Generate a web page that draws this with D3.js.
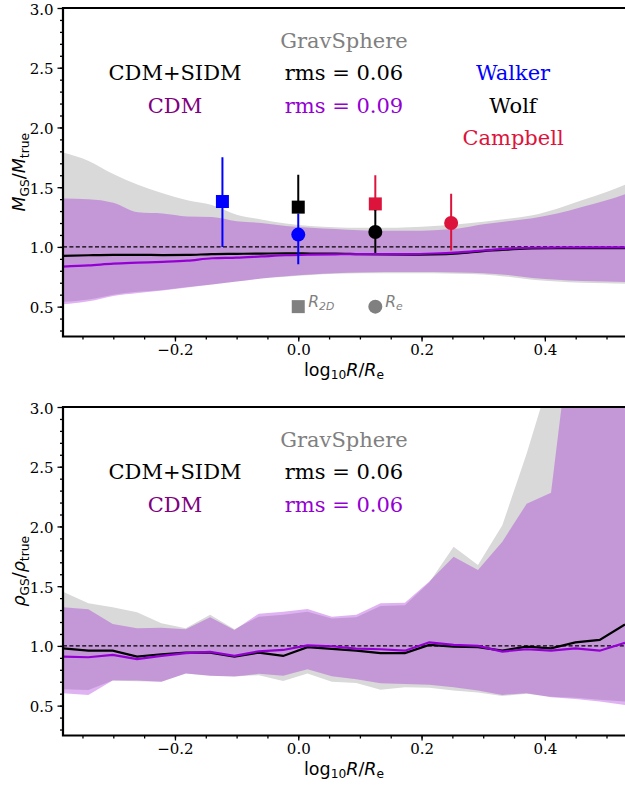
<!DOCTYPE html>
<html>
<head>
<meta charset="utf-8">
<script src="https://cdn.jsdelivr.net/npm/d3@7"></script>
<style>
body { margin: 0; background: #fff; }
svg text { font-family: "DejaVu Serif", serif; }
svg text.sans { font-family: "DejaVu Sans", sans-serif; }
</style>
</head>
<body>
<div id="chart"></div>
<script>
// ---- top panel: enclosed mass ratio ----
var xTop = [-0.382, -0.34, -0.30, -0.26, -0.22, -0.18, -0.14, -0.10, -0.06, -0.02, 0.02, 0.06,
            0.10, 0.14, 0.18, 0.22, 0.26, 0.30, 0.34, 0.38, 0.42, 0.46, 0.50, 0.54];
var mSidmHi = [1.79, 1.72, 1.61, 1.52, 1.45, 1.39, 1.35, 1.27, 1.23, 1.195, 1.175, 1.165,
               1.16, 1.16, 1.165, 1.175, 1.19, 1.21, 1.235, 1.265, 1.32, 1.39, 1.46, 1.54];
var mSidmLo = [0.54, 0.56, 0.60, 0.625, 0.64, 0.665, 0.685, 0.71, 0.735, 0.75, 0.765, 0.775,
               0.78, 0.78, 0.78, 0.78, 0.775, 0.77, 0.75, 0.725, 0.71, 0.70, 0.695, 0.69];
var mCdmHi = [1.405, 1.40, 1.37, 1.29, 1.28, 1.255, 1.25, 1.215, 1.20, 1.175, 1.16, 1.15,
              1.14, 1.135, 1.135, 1.14, 1.155, 1.19, 1.215, 1.24, 1.28, 1.335, 1.39, 1.46];
var mCdmLo = [0.52, 0.545, 0.59, 0.615, 0.635, 0.66, 0.685, 0.71, 0.735, 0.755, 0.77, 0.78,
              0.785, 0.79, 0.79, 0.79, 0.785, 0.78, 0.765, 0.74, 0.725, 0.715, 0.71, 0.705];
var mSidmMed = [0.925, 0.93, 0.933, 0.933, 0.932, 0.933, 0.94, 0.942, 0.944, 0.946, 0.945, 0.944,
                0.94, 0.937, 0.936, 0.937, 0.945, 0.965, 0.978, 0.988, 0.99, 0.99, 0.99, 0.99];
var mCdmMed = [0.835, 0.845, 0.86, 0.868, 0.875, 0.885, 0.905, 0.91, 0.92, 0.93, 0.935, 0.938,
               0.94, 0.94, 0.94, 0.945, 0.955, 0.97, 0.985, 0.993, 0.995, 0.996, 0.996, 0.996];

// mass estimators: square at R2D, circle at Re  (Walker, Wolf, Campbell)
var estNames = ['Walker', 'Wolf', 'Campbell'];
var sqX  = [-0.123, 0.0, 0.125];
var sqY  = [1.38, 1.333, 1.36];
var sqLo = [1.0, 1.30, 1.30];
var sqHi = [1.75, 1.605, 1.60];
var ciX  = [0.0, 0.125, 0.248];
var ciY  = [1.103, 1.125, 1.20];
var ciLo = [0.855, 0.95, 0.97];
var ciHi = [1.28, 1.31, 1.445];
var keyX = [0.0, 0.125];   // grey R2D / Re key markers, at 0.5
var keyY = 0.5;

// ---- bottom panel: density ratio ----
var xBot = [-0.382, -0.3405, -0.301, -0.2615, -0.222, -0.1825, -0.143, -0.1035, -0.064, -0.0245,
            0.015, 0.0545, 0.094, 0.1335, 0.173, 0.2125, 0.252, 0.2915, 0.331, 0.3705,
            0.410, 0.4495, 0.489, 0.530];
var rSidmHi = [1.454, 1.357, 1.324, 1.282, 1.19, 1.148, 1.26, 1.14, 1.245, 1.26,
               1.285, 1.23, 1.24, 1.335, 1.34, 1.53, 1.83, 1.678, 2.01, 2.61,
               3.28, 4.5, 4.5, 4.5];
var rSidmLo = [0.638, 0.63, 0.71, 0.705, 0.70, 0.77, 0.75, 0.743, 0.755, 0.707,
               0.77, 0.70, 0.69, 0.632, 0.654, 0.65, 0.626, 0.61, 0.58, 0.60,
               0.575, 0.565, 0.55, 0.535];
var rCdmHi = [1.324, 1.307, 1.184, 1.148, 1.153, 1.14, 1.24, 1.134, 1.27, 1.287,
              1.31, 1.245, 1.26, 1.357, 1.362, 1.54, 1.747, 1.636, 1.873, 2.19,
              2.283, 3.95, 4.5, 4.5];
var rCdmLo = [0.604, 0.59, 0.71, 0.71, 0.70, 0.77, 0.75, 0.743, 0.766, 0.75,
              0.805, 0.745, 0.72, 0.688, 0.682, 0.674, 0.654, 0.626, 0.59, 0.604,
              0.57, 0.556, 0.534, 0.506];
var rSidmMed = [0.98, 0.96, 0.96, 0.91, 0.93, 0.944, 0.944, 0.91, 0.944, 0.916,
                0.99, 0.975, 0.96, 0.94, 0.94, 1.008, 0.994, 0.99, 0.96, 0.994,
                0.98, 1.03, 1.05, 1.18];
var rCdmMed = [0.91, 0.905, 0.925, 0.89, 0.916, 0.94, 0.95, 0.916, 0.955, 0.966,
               1.005, 0.997, 0.978, 0.972, 0.96, 1.03, 1.008, 1.0, 0.953, 0.972,
               0.96, 0.98, 0.96, 1.025];

var rmsTop = ['rms = 0.06', 'rms = 0.09'];
var rmsBot = ['rms = 0.06', 'rms = 0.06'];
var xMajor = [-0.2, 0.0, 0.2, 0.4];
var yMajor = [0.5, 1.0, 1.5, 2.0, 2.5, 3.0];

var W = 625, H = 785;
var SERIF = '"DejaVu Serif", serif';
var col = {
  grey: '#d9d9d9', violet: '#9400d3', purple: '#800080',
  est: { Walker: '#0000ff', Wolf: '#000000', Campbell: '#dc143c' }
};

var svg = d3.select('#chart').append('svg')
  .attr('width', W).attr('height', H);

var x = d3.scaleLinear().domain([-0.3816, 0.53]).range([63, 625]);

function styled_text(g, px, py, parts, size, fill, anchor, transform) {
  var t = g.append('text')
    .attr('class', 'sans')
    .attr('font-size', size)
    .attr('fill', fill)
    .attr('text-anchor', anchor || 'middle');
  if (transform) t.attr('transform', transform);
  else t.attr('x', px).attr('y', py);
  var shift = 0;
  parts.forEach(p => {
    var s = t.append('tspan').text(p[0]);
    var want = p[1].indexOf('s') >= 0 ? size * 0.22 : 0;
    if (want != shift) { s.attr('dy', want - shift); shift = want; }
    if (p[1].indexOf('s') >= 0) s.attr('font-size', size * 0.7);
    if (p[1].indexOf('i') >= 0) s.attr('font-style', 'italic');
  });
  return t;
}

function serif_text(g, tx, ty, s, fill) {
  return g.append('text')
    .attr('x', tx).attr('y', ty)
    .attr('text-anchor', 'middle')
    .style('font-family', SERIF)
    .style('font-size', '21px')
    .attr('fill', fill)
    .text(s);
}

function panel(top, bottom, id) {
  var y = d3.scaleLinear().domain([0.25, 3.0]).range([bottom, top]);
  var g = svg.append('g').attr('class', 'panel-' + id);

  g.append('clipPath').attr('id', 'clip-' + id)
    .append('rect')
    .attr('x', x.range()[0]).attr('y', top)
    .attr('width', x.range()[1] - x.range()[0]).attr('height', bottom - top);

  var plot = g.append('g').attr('clip-path', `url(#clip-${id})`);
  return { g: g, plot: plot, y: y, top: top, bottom: bottom };
}

function bands(p, xs, gHi, gLo, cHi, cLo, gMed, cMed, curve) {
  var y = p.y;
  var area = (hi, lo) => d3.area()
    .x((d, i) => x(xs[i])).y0((d, i) => y(lo[i])).y1((d, i) => y(hi[i]))
    .curve(curve)(xs);
  var line = (v) => d3.line()
    .x((d, i) => x(xs[i])).y((d, i) => y(v[i]))
    .curve(curve)(xs);

  p.plot.append('path').attr('d', area(gHi, gLo)).attr('fill', col.grey);
  p.plot.append('path').attr('d', area(cHi, cLo))
    .attr('fill', col.violet).attr('fill-opacity', 0.3);

  p.plot.append('line')
    .attr('x1', x.range()[0]).attr('x2', x.range()[1])
    .attr('y1', y(1)).attr('y2', y(1))
    .attr('stroke', '#000').attr('stroke-width', 1.2)
    .attr('stroke-dasharray', '4,2.4');

  p.plot.append('path').attr('d', line(gMed))
    .attr('fill', 'none').attr('stroke', '#000').attr('stroke-width', 2.2);
  p.plot.append('path').attr('d', line(cMed))
    .attr('fill', 'none').attr('stroke', col.violet).attr('stroke-width', 2.2);
}

function axes(p, ylabel) {
  var y = p.y;
  var g = p.g;

  var tickStyle = sel => {
    sel.attr('font-family', null).attr('font-size', null);
    sel.select('.domain').remove();
    sel.selectAll('line').attr('stroke-width', 1.3);
    sel.selectAll('text')
      .style('font-family', SERIF)
      .style('font-size', '15px')
      .attr('fill', '#000');
  };

  g.append('g')
    .attr('transform', `translate(${ x.range()[0] },0)`)
    .call(d3.axisLeft(y).tickValues(d3.range(0.3, 3.0, 0.1)).tickSize(3).tickFormat(''))
    .call(tickStyle);
  g.append('g')
    .attr('transform', `translate(${ x.range()[0] },0)`)
    .call(d3.axisLeft(y).tickValues(yMajor).tickSize(5.5).tickPadding(4).tickFormat(d3.format('.1f')))
    .call(tickStyle)
    .selectAll('text').attr('dy', '0.4em');

  g.append('g')
    .attr('transform', `translate(0,${ p.bottom })`)
    .call(d3.axisBottom(x).tickValues(d3.range(-0.35, 0.53, 0.05)).tickSize(3).tickFormat(''))
    .call(tickStyle);
  g.append('g')
    .attr('transform', `translate(0,${ p.bottom })`)
    .call(d3.axisBottom(x).tickValues(xMajor).tickSize(5).tickPadding(3).tickFormat(d3.format('.1f')))
    .call(tickStyle);

  // spines (left, top, bottom; the right one is outside the picture)
  g.append('path')
    .attr('d', `M${ x.range()[1] },${ p.top }H${ x.range()[0] }V${ p.bottom }H${ x.range()[1] }`)
    .attr('fill', 'none').attr('stroke', '#000').attr('stroke-width', 2.2);

  styled_text(g, 344, p.bottom + 39,
    [['log', ''], ['10', 's'], ['R', 'i'], ['/', ''], ['R', 'i'], ['e', 's']], 17.5, '#000');

  var cy = (p.top + p.bottom) / 2;
  styled_text(g, 0, 0, ylabel, 17.5, '#000', 'middle', `translate(25,${ cy }) rotate(-90)`);
}

function legend_text(p, rms) {
  var g = p.g;
  var t0 = p.top;
  serif_text(g, 344, t0 + 40, 'GravSphere', '#808080');
  serif_text(g, 175, t0 + 72, 'CDM+SIDM', '#000');
  serif_text(g, 175, t0 + 104.5, 'CDM', col.purple);
  serif_text(g, 344, t0 + 72, rms[0], '#000');
  serif_text(g, 344, t0 + 104.5, rms[1], col.violet);
}

// top panel
var p1 = panel(8, 336.5, 'mass');
bands(p1, xTop, mSidmHi, mSidmLo, mCdmHi, mCdmLo, mSidmMed, mCdmMed, d3.curveMonotoneX);
axes(p1, [['M', 'i'], ['GS', 's'], ['/', ''], ['M', 'i'], ['true', 's']]);
legend_text(p1, rmsTop);

['Walker', 'Campbell', 'Wolf'].forEach(name => {
  var i = estNames.indexOf(name);
  var c = col.est[name];
  var y = p1.y;
  p1.plot.append('line')
    .attr('x1', x(sqX[i])).attr('x2', x(sqX[i]))
    .attr('y1', y(sqLo[i])).attr('y2', y(sqHi[i]))
    .attr('stroke', c).attr('stroke-width', 2);
  p1.plot.append('rect')
    .attr('x', x(sqX[i]) - 6.5).attr('y', y(sqY[i]) - 6.5)
    .attr('width', 13).attr('height', 13).attr('fill', c);
  p1.plot.append('line')
    .attr('x1', x(ciX[i])).attr('x2', x(ciX[i]))
    .attr('y1', y(ciLo[i])).attr('y2', y(ciHi[i]))
    .attr('stroke', c).attr('stroke-width', 2);
  p1.plot.append('circle')
    .attr('cx', x(ciX[i])).attr('cy', y(ciY[i])).attr('r', 7).attr('fill', c);
  serif_text(p1.g, 513, p1.top + 72 + 32.5 * i, name, c);
});

p1.plot.append('rect')
  .attr('x', x(keyX[0]) - 6.5).attr('y', p1.y(keyY) - 6.5)
  .attr('width', 13).attr('height', 13).attr('fill', '#808080');
p1.plot.append('circle')
  .attr('cx', x(keyX[1])).attr('cy', p1.y(keyY)).attr('r', 7).attr('fill', '#808080');
styled_text(p1.g, x(keyX[0]) + 10, p1.y(keyY), [['R', 'i'], ['2D', 'is']], 15.5, '#808080', 'start');
styled_text(p1.g, x(keyX[1]) + 10, p1.y(keyY), [['R', 'i'], ['e', 'is']], 15.5, '#808080', 'start');

// bottom panel
var p2 = panel(407, 735.5, 'dens');
bands(p2, xBot, rSidmHi, rSidmLo, rCdmHi, rCdmLo, rSidmMed, rCdmMed, d3.curveLinear);
axes(p2, [['ρ', 'i'], ['GS', 's'], ['/', ''], ['ρ', 'i'], ['true', 's']]);
legend_text(p2, rmsBot);
</script>
</body>
</html>
